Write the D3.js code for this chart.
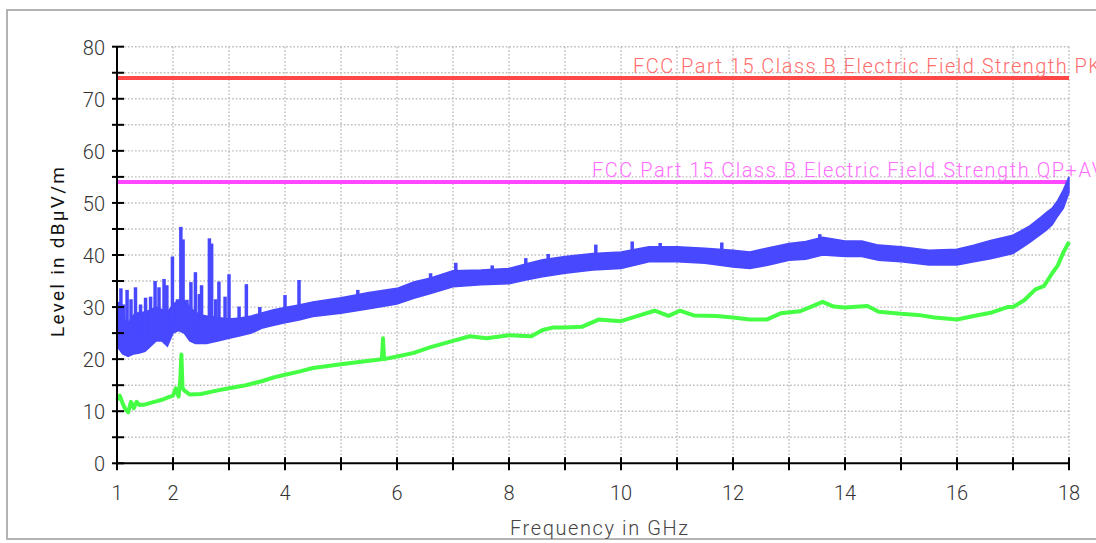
<!DOCTYPE html>
<html>
<head>
<meta charset="utf-8">
<script src="https://cdn.jsdelivr.net/npm/d3@7"></script>
<style>
  body { margin: 0; background: #fff; }
  text { font-family: Roboto, "Liberation Sans", sans-serif; }
</style>
</head>
<body>
<div id="chart"></div>
<script>
// peak trace, read as a band (upper / lower edge) in dBuV/m
const peakFreq = [1.0, 1.1, 1.2, 1.3, 1.4, 1.5, 1.6, 1.7, 1.8, 1.9, 2.0, 2.1, 2.2, 2.3, 2.4, 2.5, 2.6, 2.8, 3.0, 3.2, 3.4, 3.6, 3.8, 4.0, 4.25, 4.5, 5.0, 5.5, 6.0, 6.3, 6.6, 7.0, 7.5, 8.0, 8.3, 8.6, 9.0, 9.5, 10.0, 10.5, 11.0, 11.5, 12.0, 12.3, 12.6, 13.0, 13.3, 13.6, 14.0, 14.3, 14.6, 15.0, 15.5, 16.0, 16.3, 16.6, 17.0, 17.3, 17.5, 17.6, 17.7, 17.8, 17.9, 18.0]
const peakHigh = [29.5, 28, 27, 28.5, 29, 29, 29.5, 30, 29.5, 29, 30.5, 31.3, 31.3, 30, 29, 28.5, 28.3, 28, 27.7, 27.9, 28.3, 28.9, 29.5, 29.9, 30.4, 31, 31.8, 32.8, 33.6, 34.8, 35.6, 37, 37.1, 37.4, 38.3, 39.1, 39.7, 40.3, 40.6, 41.6, 41.6, 41.3, 40.9, 40.6, 41.3, 42.2, 42.6, 43.4, 42.7, 42.7, 41.9, 41.6, 40.9, 41.1, 41.9, 42.8, 43.8, 45.6, 47.3, 48.2, 49, 50.5, 52.5, 55]
const peakLow = [22.5, 21, 20.5, 21, 21.2, 21.5, 22.5, 23.5, 23.5, 22.5, 25, 25.5, 25, 23.5, 23, 23, 23, 23.5, 24, 24.5, 25, 26, 26.5, 27, 27.5, 28.2, 28.8, 29.7, 30.6, 31.7, 32.6, 33.9, 34.3, 34.5, 35.2, 35.8, 36.5, 37.1, 37.4, 38.7, 38.7, 38.4, 37.7, 37.4, 38, 39, 39.2, 40, 39.7, 39.7, 39, 38.7, 38.1, 38.1, 38.7, 39.3, 40.3, 42.4, 44, 44.8, 45.8, 47.5, 49, 52]

// narrow peaks standing out of the peak trace
const spikeFreq = [1.03, 1.07, 1.12, 1.18, 1.25, 1.33, 1.42, 1.51, 1.60, 1.68, 1.75, 1.84, 1.89, 1.99, 2.08, 2.14, 2.18, 2.25, 2.32, 2.40, 2.47, 2.51, 2.65, 2.69, 2.76, 2.82, 2.93, 3.00, 3.18, 3.31, 3.55, 4.0, 4.25, 5.3, 6.6, 7.05, 7.7, 8.3, 8.7, 9.55, 10.2, 10.7, 11.8, 13.55]
const spikeLevel = [31, 33.6, 30.5, 33.3, 31.5, 33.8, 30.5, 31.8, 32, 35, 33.8, 35.4, 34.2, 39.7, 31.5, 45.4, 43, 31.4, 34.8, 36.7, 32.5, 34.2, 43.2, 42.2, 31.5, 34.9, 32, 36.3, 30.1, 34.4, 30, 32.3, 35.2, 33.3, 36.5, 38.5, 38, 39.4, 40.2, 42, 42.6, 42.3, 42.4, 44]

// average trace
const avgFreq = [1.0, 1.05, 1.1, 1.15, 1.2, 1.25, 1.3, 1.35, 1.4, 1.5, 1.6, 1.7, 1.8, 1.9, 2.0, 2.05, 2.1, 2.13, 2.15, 2.17, 2.2, 2.3, 2.5, 2.8, 3.0, 3.3, 3.6, 3.8, 4.0, 4.25, 4.5, 5.0, 5.5, 5.73, 5.75, 5.77, 6.0, 6.3, 6.6, 7.0, 7.3, 7.6, 8.0, 8.4, 8.6, 8.8, 9.0, 9.3, 9.6, 10.0, 10.3, 10.6, 10.85, 11.05, 11.3, 11.7, 12.0, 12.3, 12.6, 12.85, 13.2, 13.4, 13.6, 13.8, 14.0, 14.4, 14.6, 15.0, 15.3, 15.6, 16.0, 16.3, 16.6, 16.9, 17.0, 17.2, 17.4, 17.55, 17.7, 17.8, 17.9, 18.0]
const avgLevel = [12.2, 13, 11.5, 10.4, 9.8, 11.8, 10.6, 11.8, 11.2, 11.3, 11.6, 11.9, 12.2, 12.6, 13, 14.4, 12.8, 16, 20.9, 14.5, 14, 13.2, 13.3, 14, 14.4, 15, 15.8, 16.5, 17, 17.6, 18.3, 19, 19.7, 20, 24, 20, 20.5, 21.2, 22.3, 23.5, 24.4, 24, 24.6, 24.4, 25.6, 26.1, 26.1, 26.2, 27.6, 27.3, 28.3, 29.3, 28.3, 29.3, 28.4, 28.3, 28, 27.6, 27.6, 28.8, 29.2, 30.1, 31, 30.1, 29.9, 30.2, 29.1, 28.7, 28.5, 28, 27.6, 28.3, 28.9, 30, 30, 31.3, 33.4, 34, 36.5, 38, 40.5, 42.5]

// limit lines
const limitLevels = [74, 54]
const limitLabels = ['FCC Part 15 Class B Electric Field Strength PK', 'FCC Part 15 Class B Electric Field Strength QP+AV']

const xTickLabels = [1, 2, 4, 6, 8, 10, 12, 14, 16, 18]
const yTickLabels = [0, 10, 20, 30, 40, 50, 60, 70, 80]
const xMinorTicks = d3.range(1, 19)
const yMinorTicks = d3.range(0, 81, 5)

const W = 1096, H = 543
const X0 = 117, X1 = 1069, Y0 = 463.3, Y1 = 46.7
const LIMIT_COLORS = ['#ff4848', '#ff48ff']
const LIMIT_TEXT = ['#ff6c6c', '#ff6cff']
const LABEL_POS = [{x: 633, y: 73, len: 468}, {x: 592, y: 177, len: 512}]
const BLUE = '#4848ff'

const svg = d3.select('#chart').append('svg')
    .attr('width', W)
    .attr('height', H)

// outer frame, right side runs past the window
svg.append('rect')
    .attr('x', 7).attr('y', 10)
    .attr('width', 1100).attr('height', 529)
    .attr('fill', '#fff')
    .attr('stroke', '#b3b3b3')
    .attr('stroke-width', 2)

const x = d3.scaleLinear().domain([1, 18]).range([X0, X1])
const y = d3.scaleLinear().domain([0, 80]).range([Y0, Y1])

// dotted grid
const grid = svg.append('g')
    .attr('stroke', '#bdbdbd')
    .attr('stroke-width', 1.4)
    .attr('stroke-dasharray', '1.6,2')
grid.selectAll('line.v').data(xMinorTicks.slice(1)).enter().append('line')
    .attr('x1', d => x(d)).attr('x2', d => x(d))
    .attr('y1', y(80)).attr('y2', y(0))
grid.selectAll('line.h').data(yMinorTicks.slice(1)).enter().append('line')
    .attr('x1', x(1)).attr('x2', x(18))
    .attr('y1', d => y(d)).attr('y2', d => y(d))

// limit lines + labels
svg.selectAll('line.limit').data(limitLevels).enter().append('line')
    .attr('x1', x(1)).attr('x2', x(18))
    .attr('y1', d => y(d)).attr('y2', d => y(d))
    .attr('stroke', (d, i) => LIMIT_COLORS[i])
    .attr('stroke-width', 4)

svg.selectAll('text.limit').data(limitLabels).enter().append('text')
    .attr('x', (d, i) => LABEL_POS[i].x)
    .attr('y', (d, i) => LABEL_POS[i].y)
    .attr('textLength', (d, i) => LABEL_POS[i].len)
    .attr('lengthAdjust', 'spacing')
    .attr('font-size', 20)
    .attr('font-weight', 300)
    .attr('fill', (d, i) => LIMIT_TEXT[i])
    .text(d => d)

// average trace
const avgData = avgFreq.map((f, i) => [f, avgLevel[i]])
svg.append('path')
    .datum(avgData)
    .attr('fill', 'none')
    .attr('stroke', '#45ff45')
    .attr('stroke-width', 4)
    .attr('stroke-linejoin', 'round')
    .attr('d', d3.line().x(d => x(d[0])).y(d => y(d[1])))

// peak trace band
const peakData = peakFreq.map((f, i) => ({f: f, hi: peakHigh[i], lo: peakLow[i]}))
svg.append('path')
    .datum(peakData)
    .attr('fill', BLUE)
    .attr('stroke', BLUE)
    .attr('stroke-width', 1.5)
    .attr('d', d3.area().x(d => x(d.f)).y0(d => y(d.lo)).y1(d => y(d.hi)))

// spikes start inside the band
const bisect = d3.bisector(d => d).left
svg.selectAll('line.spike').data(spikeFreq).enter().append('line')
    .attr('x1', d => x(d)).attr('x2', d => x(d))
    .attr('y1', (d, i) => y(spikeLevel[i]))
    .attr('y2', d => y(peakLow[Math.min(bisect(peakFreq, d), peakFreq.length - 1)] + 1))
    .attr('stroke', BLUE)
    .attr('stroke-width', 3.5)

// axes
const axes = svg.append('g').attr('stroke', '#000').attr('stroke-width', 2)
axes.append('line').attr('x1', x(1)).attr('x2', x(1)).attr('y1', y(80)).attr('y2', y(0))
axes.append('line').attr('x1', x(1)).attr('x2', x(18)).attr('y1', y(0)).attr('y2', y(0))
axes.selectAll('line.yt').data(yMinorTicks).enter().append('line')
    .attr('x1', x(1) - 5).attr('x2', x(1) + 7)
    .attr('y1', d => y(d)).attr('y2', d => y(d))
axes.selectAll('line.xt').data(xMinorTicks).enter().append('line')
    .attr('x1', d => x(d)).attr('x2', d => x(d))
    .attr('y1', y(0) - 6).attr('y2', y(0) + 7)

svg.selectAll('text.yl').data(yTickLabels).enter().append('text')
    .attr('x', 105)
    .attr('y', d => y(d) + 8)
    .attr('text-anchor', 'end')
    .attr('font-size', 20)
    .attr('font-weight', 300)
    .attr('fill', '#333')
    .text(d => d)

svg.selectAll('text.xl').data(xTickLabels).enter().append('text')
    .attr('x', d => x(d))
    .attr('y', 500)
    .attr('text-anchor', 'middle')
    .attr('font-size', 20)
    .attr('font-weight', 300)
    .attr('fill', '#333')
    .text(d => d)

// axis titles
svg.append('text')
    .attr('transform', 'translate(64, 252) rotate(-90)')
    .attr('text-anchor', 'middle')
    .attr('font-size', 19)
    .attr('fill', '#111')
    .attr('textLength', 170)
    .attr('lengthAdjust', 'spacing')
    .text('Level in dBµV/m')

svg.append('text')
    .attr('x', 599)
    .attr('y', 535)
    .attr('text-anchor', 'middle')
    .attr('font-size', 20)
    .attr('font-weight', 300)
    .attr('fill', '#444')
    .attr('textLength', 178)
    .attr('lengthAdjust', 'spacing')
    .text('Frequency in GHz')
</script>
</body>
</html>
